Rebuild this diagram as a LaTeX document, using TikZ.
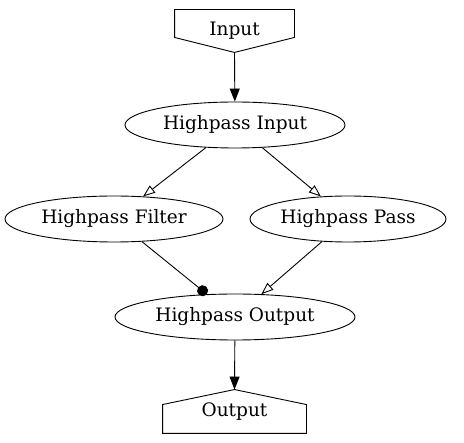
\documentclass[tikz,border=0pt]{standalone}
\usepackage{fontspec}
\setmainfont{DejaVu Serif}
\usetikzlibrary{shapes.geometric,arrows.meta}
\tikzset{
  every path/.style = {line width=0.9pt},
  stato/.style  = {ellipse, draw, inner sep=0, minimum height=46pt, font=\fontsize{18.5}{22}\selectfont},
  porta/.style  = {rectangle, inner sep=0, font=\fontsize{18.5}{22}\selectfont},
  pieno/.style  = {-{Triangle[length=13pt,width=10pt]}},
  vuoto/.style  = {-{Triangle[open,length=12pt,width=9pt]}},
  pallino/.style = {-{Circle[length=11pt]}}
}
\begin{document}
\begin{tikzpicture}[x=1pt,y=-1pt]
  \useasboundingbox (0,0) rectangle (464,443);
  \node[porta, minimum width=119pt, minimum height=42pt] (in) at (234.5,31) {Input};
  \draw (in.north west) -- (in.north east) -- ([yshift=15pt]in.south east) -- (in.south) -- ([yshift=15pt]in.south west) -- cycle;
  \node[stato, minimum width=220pt] (hi) at (235,125) {Highpass Input};
  \node[stato, minimum width=218pt] (hf) at (114,219) {Highpass Filter};
  \node[stato, minimum width=196pt] (hp) at (348,219) {Highpass Pass};
  \node[stato, minimum width=240pt] (ho) at (235,317) {Highpass Output};
  \node[porta, minimum width=143pt, minimum height=43pt] (out) at (234.5,411.5) {Output};
  \draw (out.north) -- ([yshift=-15pt]out.north east) -- (out.south east) -- (out.south west) -- ([yshift=-15pt]out.north west) -- cycle;
  \draw[pieno] (in.south) -- (hi);
  \draw[vuoto] (hi) -- (hf); \draw[vuoto] (hi) -- (hp);
  \draw[pallino] (hf) -- (ho); \draw[vuoto] (hp) -- (ho);
  \draw[pieno] (ho) -- (out.north);
\end{tikzpicture}
\end{document}
